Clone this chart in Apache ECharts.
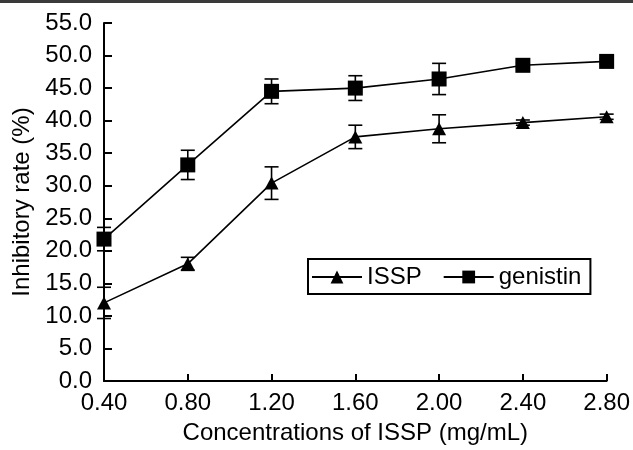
<!DOCTYPE html>
<html>
<head>
<meta charset="utf-8">
<script src="https://cdn.jsdelivr.net/npm/echarts@6/dist/echarts.min.js"></script>
<style>
  html, body { margin: 0; padding: 0; background: #fff; }
  #chart { width: 633px; height: 450px; }
</style>
</head>
<body>
<div id="chart"></div>
<script>
const concentrations = ['0.40', '0.80', '1.20', '1.60', '2.00', '2.40', '2.80']
const isspRate = [12.0, 18.0, 30.4, 37.5, 38.75, 39.7, 40.6]
const isspErr = [2.4, 1.0, 2.5, 1.8, 2.15, 0.4, 0.4]
const genistinRate = [21.8, 33.2, 44.5, 45.0, 46.4, 48.5, 49.1]
const genistinErr = [1.8, 2.25, 1.9, 1.9, 2.4, 0.4, 0.4]

const FONT = "'Liberation Sans', Arial, sans-serif"

const errData = (vals, errs) => vals.map((v, i) => [i, v - errs[i], v + errs[i]])

const renderErr = (params, api) => {
  const lo = api.coord([api.value(0), api.value(1)])
  const hi = api.coord([api.value(0), api.value(2)])
  const w = 7
  const style = { stroke: '#000', lineWidth: 1.6 }
  return {
    type: 'group',
    children: [
      { type: 'line', shape: { x1: hi[0], y1: hi[1], x2: lo[0], y2: lo[1] }, style },
      { type: 'line', shape: { x1: hi[0] - w, y1: hi[1], x2: hi[0] + w, y2: hi[1] }, style },
      { type: 'line', shape: { x1: lo[0] - w, y1: lo[1], x2: lo[0] + w, y2: lo[1] }, style },
    ],
  }
}

const chart = echarts.init(document.getElementById('chart'))
chart.setOption({
  animation: false,
  backgroundColor: '#fff',
  textStyle: { fontFamily: FONT, color: '#000' },
  graphic: [
    { type: 'rect', left: 0, top: 0, shape: { width: 633, height: 3 }, style: { fill: '#3a3a3a' } },
  ],
  grid: { left: 104, right: 25, top: 23, bottom: 65 },
  legend: {
    data: ['ISSP', 'genistin'],
    left: 308,
    top: 259,
    orient: 'horizontal',
    borderColor: '#000',
    borderWidth: 2,
    padding: [6, 9, 5, 3],
    itemWidth: 50,
    itemHeight: 16,
    itemGap: 21,
    textStyle: { fontSize: 24, color: '#000', fontFamily: FONT },
  },
  xAxis: {
    type: 'category',
    data: concentrations,
    boundaryGap: false,
    name: 'Concentrations of ISSP (mg/mL)',
    nameLocation: 'middle',
    nameGap: 40,
    nameTextStyle: { fontSize: 24, color: '#000', fontFamily: FONT },
    axisLine: { lineStyle: { color: '#000', width: 2 } },
    axisTick: { inside: true, length: 7, alignWithLabel: true, lineStyle: { color: '#000', width: 2 } },
    axisLabel: { fontSize: 24, color: '#000', margin: 10, fontFamily: FONT },
    splitLine: { show: false },
  },
  yAxis: {
    type: 'value',
    min: 0,
    max: 55,
    interval: 5,
    name: 'Inhibitory rate (%)',
    nameLocation: 'middle',
    nameGap: 70,
    nameTextStyle: { fontSize: 24, color: '#000', fontFamily: FONT },
    axisLine: { show: true, lineStyle: { color: '#000', width: 2 } },
    axisTick: { show: true, inside: true, length: 8, lineStyle: { color: '#000', width: 2 } },
    axisLabel: { fontSize: 24, color: '#000', margin: 12, fontFamily: FONT, formatter: v => v.toFixed(1) },
    splitLine: { show: false },
  },
  series: [
    {
      name: 'ISSP',
      type: 'line',
      data: isspRate,
      symbol: 'triangle',
      symbolSize: [14, 13],
      itemStyle: { color: '#000' },
      lineStyle: { color: '#000', width: 1.6 },
      z: 3,
    },
    {
      name: 'genistin',
      type: 'line',
      data: genistinRate,
      symbol: 'rect',
      symbolSize: 15,
      itemStyle: { color: '#000' },
      lineStyle: { color: '#000', width: 1.6 },
      z: 3,
    },
    {
      name: 'isspErrBar',
      type: 'custom',
      data: errData(isspRate, isspErr),
      renderItem: renderErr,
      encode: { x: 0, y: [1, 2] },
      z: 2,
    },
    {
      name: 'genistinErrBar',
      type: 'custom',
      data: errData(genistinRate, genistinErr),
      renderItem: renderErr,
      encode: { x: 0, y: [1, 2] },
      z: 2,
    },
  ],
})
</script>
</body>
</html>
